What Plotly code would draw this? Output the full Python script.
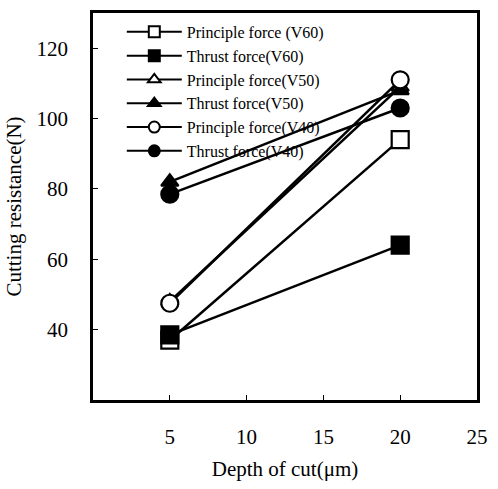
import plotly.graph_objects as go

depth = [5, 20]
names = ["Principle force (V60)", "Thrust force(V60)", "Principle force(V50)",
         "Thrust force(V50)", "Principle force(V40)", "Thrust force(V40)"]
principle_v60 = [37, 94]
thrust_v60 = [38.5, 64]
principle_v50 = [48, 109]
thrust_v50 = [82, 108]
principle_v40 = [47.5, 111]
thrust_v40 = [78.5, 103]
x_ticks = [5, 10, 15, 20, 25]
y_ticks = [40, 60, 80, 100, 120]

series = [principle_v60, thrust_v60, principle_v50, thrust_v50, principle_v40, thrust_v40]
symbols = ["square-open", "square", "triangle-up-open", "triangle-up", "circle-open", "circle"]
sizes = [17, 17, 15, 15, 17, 17]

fig = go.Figure()
for i, (nm, ys, sym, sz) in enumerate(zip(names, series, symbols, sizes)):
    openm = sym.endswith("open")
    base = sym.replace("-open", "")
    fill = "white" if openm else "black"
    fig.add_trace(go.Scatter(
        x=depth, y=ys, name=nm, mode="lines+markers",
        legendgroup=f"g{i}", showlegend=False,
        line=dict(color="black", width=2.5),
        marker=dict(symbol=base, size=sz, color=fill,
                    line=dict(color="black", width=2.2)),
    ))
    # legend entry with smaller marker, as in the reference key
    fig.add_trace(go.Scatter(
        x=[None], y=[None], name=nm, mode="lines+markers",
        legendgroup=f"g{i}", showlegend=True,
        line=dict(color="black", width=2),
        marker=dict(symbol=base, size=11, color=fill,
                    line=dict(color="black", width=2)),
    ))

font_fam = "Liberation Serif, Times New Roman, serif"
fig.update_layout(
    width=498, height=489,
    margin=dict(l=93, r=10, t=11, b=89),
    paper_bgcolor="white", plot_bgcolor="white",
    font=dict(family=font_fam, color="black", size=21),
    showlegend=True,
    legend=dict(x=0.075, y=0.995, xanchor="left", yanchor="top",
                bgcolor="rgba(0,0,0,0)", font=dict(size=16, family=font_fam),
                tracegroupgap=0, itemwidth=55),
    xaxis=dict(range=[0, 25], tickvals=x_ticks, ticks="inside", ticklen=5,
               tickcolor="black", showline=True, linecolor="black", linewidth=2.5,
               mirror=True, showgrid=False, zeroline=False,
               ticklabelstandoff=16,
               title=dict(text="Depth of cut(μm)", standoff=14,
                          font=dict(size=21))),
    yaxis=dict(range=[20, 130], tickvals=y_ticks, ticks="inside", ticklen=5,
               tickcolor="black", showline=True, linecolor="black", linewidth=2.5,
               mirror=True, showgrid=False, zeroline=False,
               ticklabelstandoff=18,
               title=dict(text="Cutting resistance(N)", standoff=10,
                          font=dict(size=21))),
)

fig.write_html("out.html")
